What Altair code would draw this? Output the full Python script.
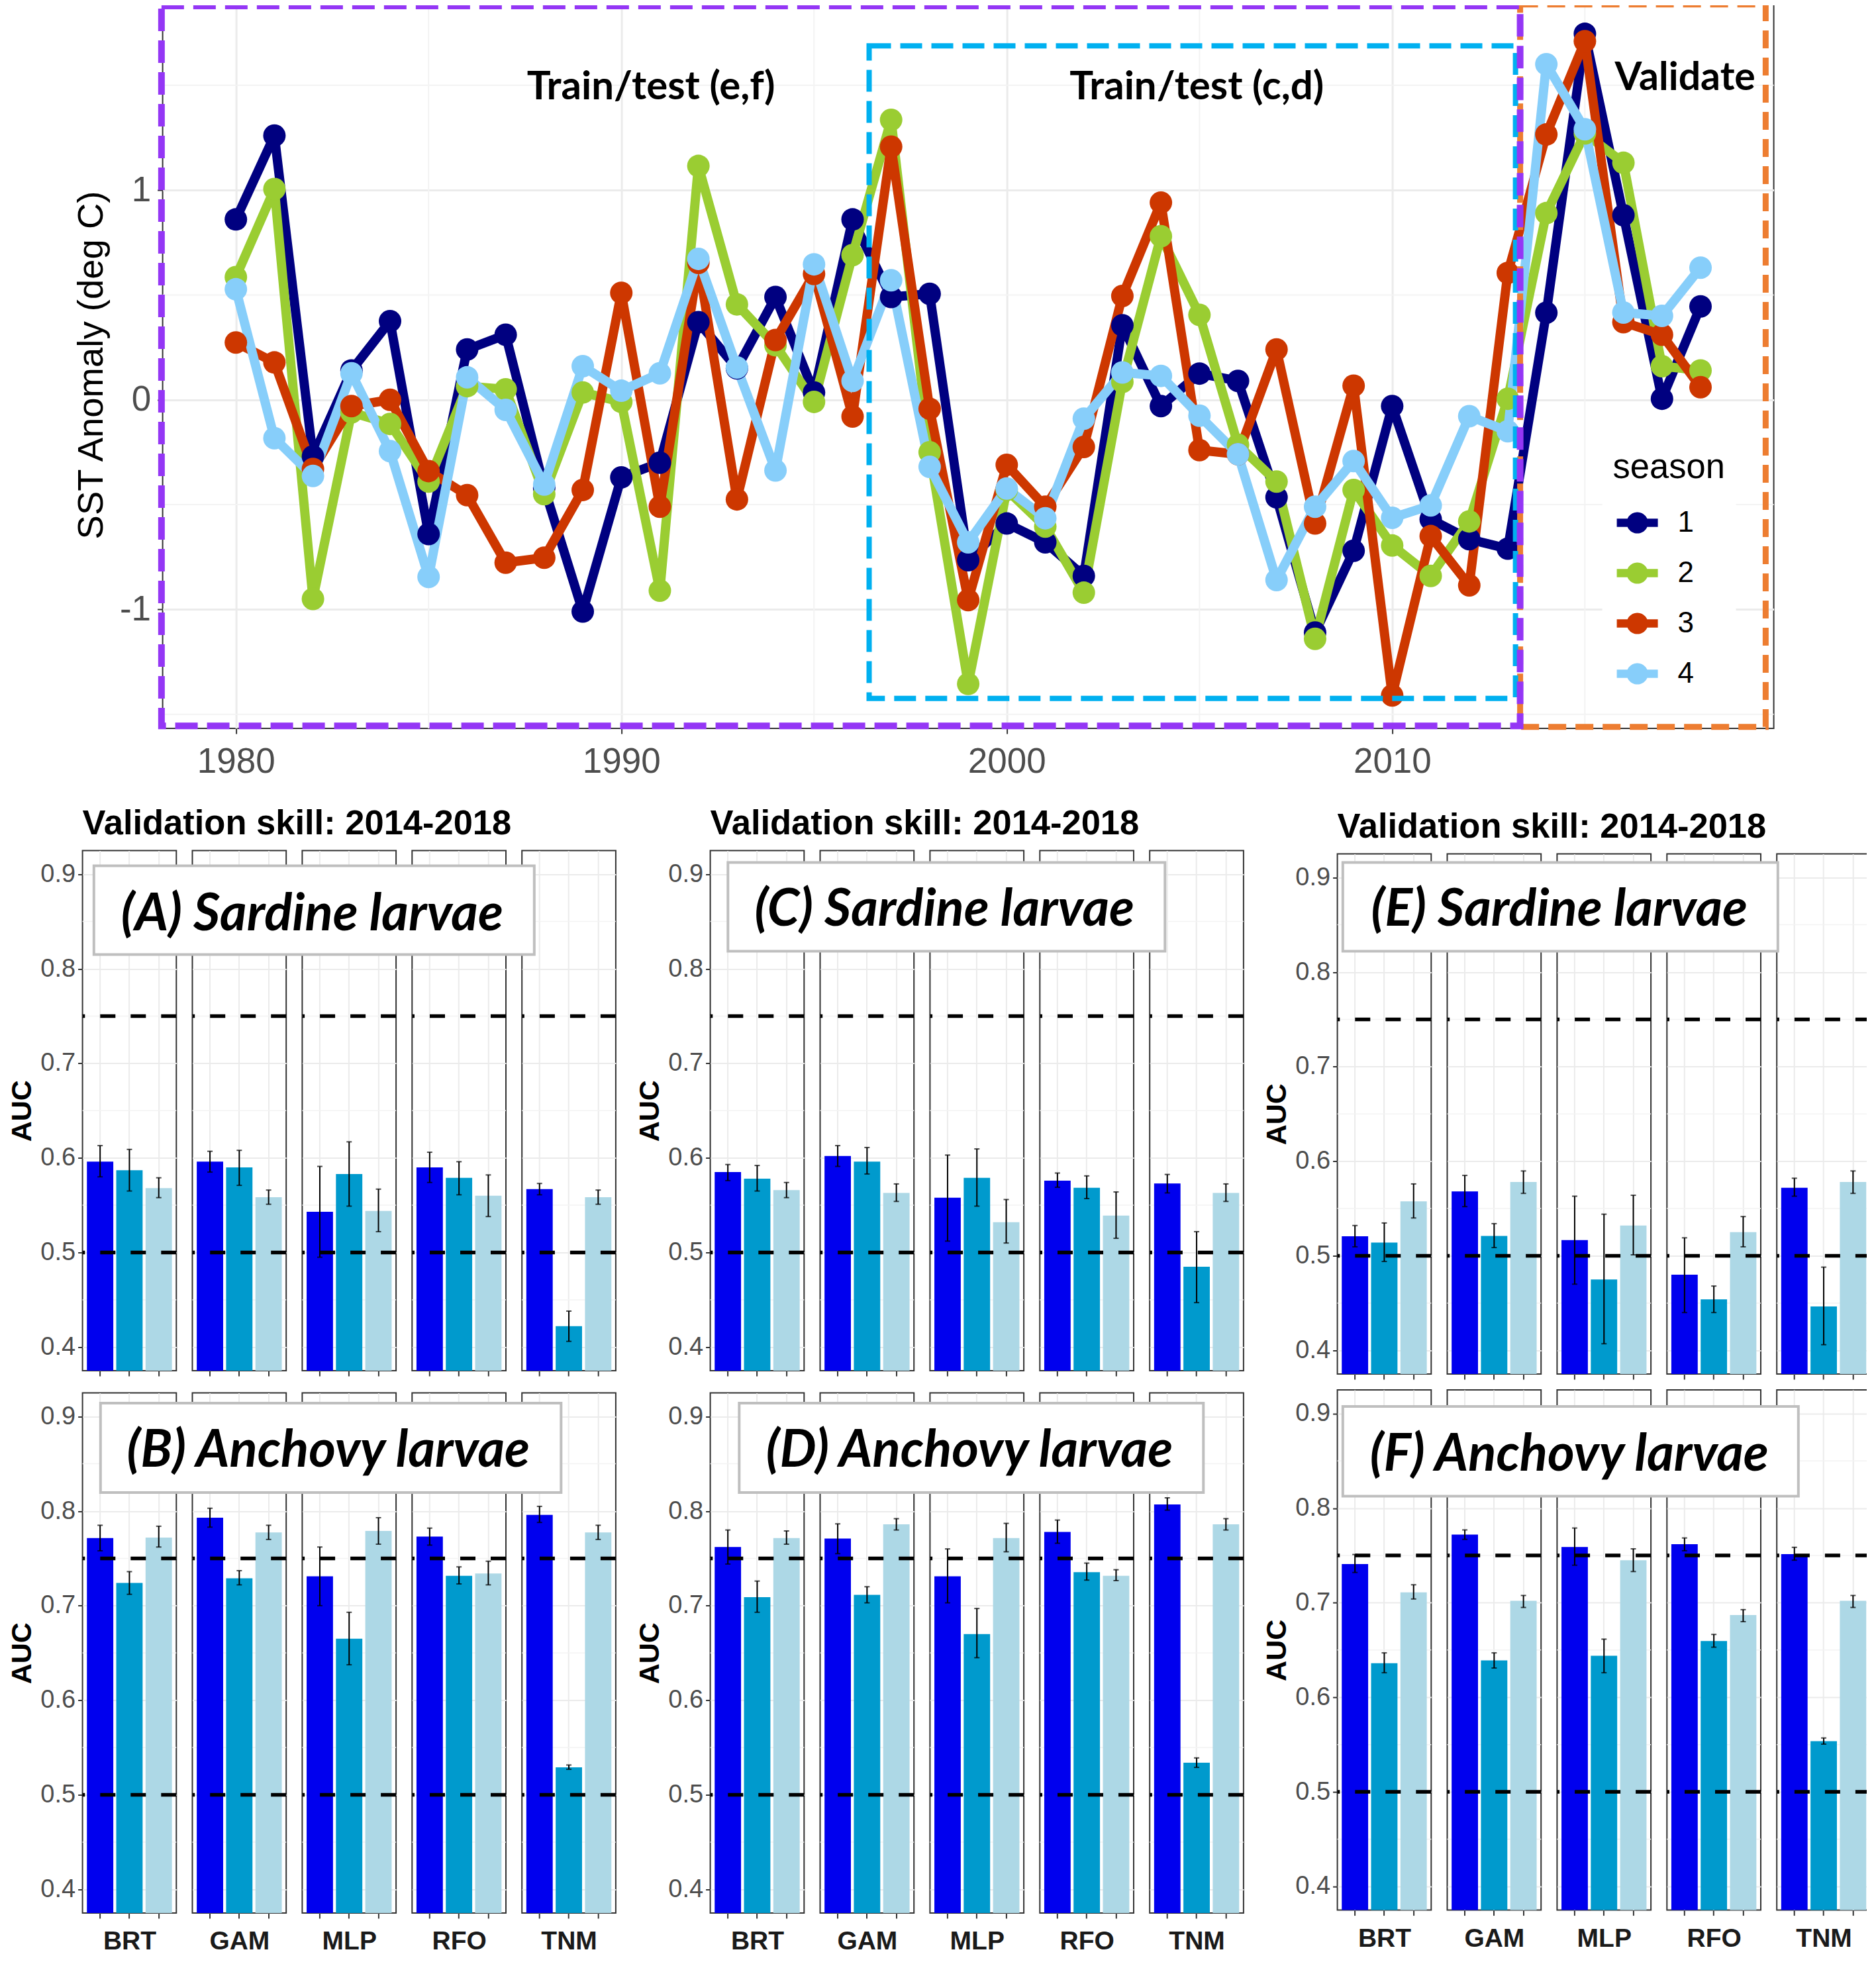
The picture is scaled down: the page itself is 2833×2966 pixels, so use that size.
import altair as alt
import pandas as pd

# ── data ─────────────────────────────────────────────────────────────────────
years = list(range(1980, 2019))
season_1 = [0.86, 1.26, -0.27, 0.14, 0.375, -0.64, 0.24, 0.31, -0.42, -1.01, -0.37, -0.30, 0.37, 0.15, 0.49, 0.035, 0.86, 0.49, 0.505,
            -0.765, -0.59, -0.68, -0.84, 0.355, -0.03, 0.125, 0.09, -0.465, -1.11, -0.72, -0.03, -0.57, -0.665, -0.71, 0.415, 1.745, 0.88, 0.005, 0.445]
season_2 = [0.585, 1.005, -0.95, -0.06, -0.115, -0.39, 0.065, 0.05, -0.45, 0.035, -0.01, -0.91, 1.115, 0.455, 0.26, -0.01, 0.69, 1.335, -0.25,
            -1.355, -0.43, -0.605, -0.92, 0.085, 0.78, 0.405, -0.215, -0.39, -1.14, -0.43, -0.695, -0.84, -0.58, 0.005, 0.89, 1.27, 1.13, 0.16, 0.14]
season_3 = [0.273, 0.178, -0.33, -0.03, 0.0, -0.34, -0.455, -0.777, -0.753, -0.43, 0.51, -0.51, 0.653, -0.475, 0.285, 0.6, -0.08, 1.207, -0.043,
            -0.955, -0.31, -0.51, -0.225, 0.495, 0.94, -0.24, -0.26, 0.24, -0.59, 0.067, -1.41, -0.65, -0.885, 0.605, 1.265, 1.71, 0.37, 0.31, 0.06]
season_4 = [0.527, -0.183, -0.363, 0.126, -0.245, -0.845, 0.107, -0.048, -0.404, 0.16, 0.043, 0.126, 0.672, 0.154, -0.337, 0.646, 0.09, 0.57, -0.32,
            -0.68, -0.423, -0.565, -0.09, 0.13, 0.114, -0.076, -0.26, -0.86, -0.51, -0.292, -0.563, -0.504, -0.078, -0.15, 1.6, 1.29, 0.416, 0.4, 0.63]

season_names = ["1", "2", "3", "4"]
season_colors = ["#000080", "#9ACD32", "#CD3700", "#87CEFA"]

models = ["BRT", "GAM", "MLP", "RFO", "TNM"]
bar_groups = ["a", "b", "c"]
bar_colors = ["#0000EE", "#009ACD", "#ADD8E6"]

A_auc = [.596, .587, .568, .596, .590, .5585, .543, .583, .544, .590, .579, .560, .567, .422, .5585]
A_hi = [.613, .609, .579, .607, .608, .566, .591, .617, .567, .606, .596, .582, .573, .438, .566]
A_lo = [.580, .565, .558, .585, .571, .551, .495, .549, .522, .574, .561, .538, .561, .406, .551]

B_auc = [.7715, .724, .772, .793, .729, .7775, .731, .665, .779, .773, .7316, .734, .796, .529, .7775]
B_hi = [.785, .736, .784, .803, .737, .785, .762, .693, .793, .782, .741, .747, .805, .5315, .785]
B_lo = [.758, .712, .762, .783, .722, .770, .700, .6375, .765, .764, .723, .722, .788, .527, .770]

C_auc = [.585, .578, .566, .602, .596, .563, .558, .579, .532, .576, .5685, .539, .573, .485, .563]
C_hi = [.593, .592, .574, .613, .611, .5725, .603, .6095, .556, .584, .581, .564, .5825, .522, .5725]
C_lo = [.576, .565, .558, .591, .583, .554, .512, .549, .510, .569, .557, .515, .563, .447, .554]

D_auc = [.762, .709, .7715, .771, .7115, .786, .731, .670, .7715, .778, .7355, .7316, .807, .534, .786]
D_hi = [.780, .726, .779, .7865, .720, .792, .760, .697, .787, .7905, .745, .738, .814, .539, .792]
D_lo = [.744, .693, .765, .755, .703, .780, .703, .645, .757, .766, .727, .7265, .801, .529, .780]

E_auc = [.5207, .514, .5576, .568, .521, .578, .5167, .475, .532, .480, .454, .525, .572, .4465, .578]
E_hi = [.532, .5347, .576, .585, .534, .5897, .563, .544, .564, .519, .468, .5415, .582, .488, .5897]
E_lo = [.5095, .494, .540, .552, .5087, .566, .470, .407, .501, .440, .440, .5095, .563, .406, .566]

F_auc = [.741, .636, .711, .772, .639, .702, .759, .644, .745, .762, .6595, .687, .7515, .5536, .702]
F_hi = [.751, .647, .719, .777, .647, .7077, .779, .6615, .757, .7685, .6665, .6927, .7586, .557, .7077]
F_lo = [.732, .626, .704, .767, .631, .695, .7397, .626, .733, .755, .653, .680, .745, .5505, .695]

auc_ticks = [0.4, 0.5, 0.6, 0.7, 0.8, 0.9]
auc_minor = [0.45, 0.55, 0.65, 0.75, 0.85]
auc_refs = [0.5, 0.75]

# ── shared look ──────────────────────────────────────────────────────────────
ARIAL = "Liberation Sans"
CALIBRI = "Lato"
GRID = "#EBEBEB"
MINOR = "#F3F3F3"
PANEL_W = 141.7
PANEL_H = 785.5
PANEL_GAP = 23.9
BLANK = alt.Data(values=[{}])


def spacer(w, h):
    return (
        alt.Chart(BLANK)
        .mark_point(opacity=0)
        .encode(x=alt.value(0))
        .properties(width=w, height=h, view=alt.ViewBackground(stroke=None))
    )


def panel(auc, hi, lo, m, first, bottom, heading, box):
    """one facet: three bars with error bars; box and heading are overlays"""
    i = models.index(m)
    df = pd.DataFrame({
        "group": bar_groups, "fill": bar_colors,
        "auc": auc[i * 3:i * 3 + 3], "hi": hi[i * 3:i * 3 + 3], "lo": lo[i * 3:i * 3 + 3],
    })
    x = alt.X(
        "group:N",
        title=m if bottom else None,
        scale=alt.Scale(paddingInner=0.1, paddingOuter=0.15),
        axis=alt.Axis(
            labels=False, ticks=True, tickSize=8, tickWidth=2, tickColor="#333333", domain=False,
            grid=True, gridColor=GRID, gridWidth=2,
            titleFont=ARIAL, titleFontSize=39, titleFontWeight="bold", titleColor="#1A1A1A", titlePadding=15,
        ),
    )
    yscale = alt.Scale(domain=[0.375, 0.925], nice=False, zero=False)
    if first:
        yaxis = alt.Axis(
            values=auc_ticks, format=".1f", labelFont=ARIAL, labelFontSize=38, labelColor="#4D4D4D", labelPadding=4,
            tickSize=7, tickWidth=2, tickColor="#333333", domain=False, grid=True, gridColor=GRID, gridWidth=2,
            title="AUC", titleFont=ARIAL, titleFontSize=43, titleFontWeight="bold", titleColor="#000000", titlePadding=5,
        )
    else:
        yaxis = alt.Axis(values=auc_ticks, labels=False, ticks=False, domain=False, grid=True, gridColor=GRID, gridWidth=2, title=None)

    def yy(field):
        return alt.Y(field, scale=yscale, axis=yaxis)

    minor = alt.Chart(pd.DataFrame({"v": auc_minor})).mark_rule(color=MINOR, strokeWidth=1.5).encode(y=yy("v:Q"))
    bars = alt.Chart(df).mark_bar(size=PANEL_W / 3.2 * 0.9, clip=True).encode(
        x=x, y=yy("auc:Q"), color=alt.Color("fill:N", scale=None),
    )
    refs = alt.Chart(pd.DataFrame({"v": auc_refs})).mark_rule(color="black", strokeWidth=5.5, strokeDash=[23, 23]).encode(y=yy("v:Q"))
    err = alt.Chart(df).mark_rule(color="black", strokeWidth=2).encode(x=x, y=yy("lo:Q"), y2="hi:Q")
    cap_lo = alt.Chart(df).mark_tick(color="black", size=8, thickness=2).encode(x=x, y=yy("lo:Q"))
    cap_hi = alt.Chart(df).mark_tick(color="black", size=8, thickness=2).encode(x=x, y=yy("hi:Q"))
    layers = [minor, bars, refs, err, cap_lo, cap_hi]

    if heading:
        layers.append(
            alt.Chart(BLANK)
            .mark_text(align="left", baseline="middle", font=ARIAL, fontSize=52.5, fontWeight="bold", color="black")
            .encode(x=alt.value(0), y=alt.value(-41), text=alt.value(heading))
        )
    if box:
        layers.append(
            alt.Chart(BLANK)
            .mark_rect(fill="white", stroke="#BFBFBF", strokeWidth=4)
            .encode(x=alt.value(box["x0"]), x2=alt.value(box["x1"]), y=alt.value(box["y0"]), y2=alt.value(box["y1"]))
        )
        layers.append(
            alt.Chart(BLANK)
            .mark_text(align="center", baseline="middle", dy=5, font=CALIBRI, fontSize=box["size"], fontWeight="bold", fontStyle="italic", color="black")
            .encode(x=alt.value(box["tx"]), y=alt.value(box["ty"]), text=alt.value(box["label"]))
        )
    return alt.layer(*layers).properties(width=PANEL_W, height=PANEL_H)


def row(auc, hi, lo, bottom, heading, box):
    panels = [panel(auc, hi, lo, m, m == "BRT", bottom, heading if m == "BRT" else None, box if m == "TNM" else None) for m in models]
    return alt.hconcat(*panels, spacing=PANEL_GAP, bounds="flush")


# label boxes, relative to the last facet of their row
def box(label, left, top, x0, x1, y0, y1, tx, ty, size):
    pl = left + 4 * (PANEL_W + PANEL_GAP)
    return dict(label=label, x0=x0 - pl, x1=x1 - pl, y0=y0 - top, y1=y1 - top, tx=tx - pl, ty=ty - top, size=size)


col_1 = alt.vconcat(
    row(A_auc, A_hi, A_lo, False, "Validation skill: 2014-2018", box("(A) Sardine larvae", 126, 1287, 142, 807, 1310, 1444, 471.5, 1379, 78)),
    row(B_auc, B_hi, B_lo, True, None, box("(B) Anchovy larvae", 126, 2103, 152, 847.5, 2118.4, 2253.4, 496, 2187, 78)),
    spacing=22,
)
col_2 = alt.vconcat(
    row(C_auc, C_hi, C_lo, False, "Validation skill: 2014-2018", box("(C) Sardine larvae", 1073.5, 1287, 1099, 1759, 1305, 1439, 1426, 1372, 78)),
    row(D_auc, D_hi, D_lo, True, None, box("(D) Anchovy larvae", 1073.5, 2103, 1116, 1817, 2118.4, 2253.4, 1463.6, 2187, 78)),
    spacing=22,
)
col_3 = alt.vconcat(
    spacer(1, 5),
    alt.vconcat(
        row(E_auc, E_hi, E_lo, False, "Validation skill: 2014-2018", box("(E) Sardine larvae", 2020, 1292, 2027, 2684, 1305, 1439, 2354, 1372, 78)),
        row(F_auc, F_hi, F_lo, True, None, box("(F) Anchovy larvae", 2020, 2098.6, 2027, 2715, 2123.5, 2259, 2369, 2193, 78)),
        spacing=12.6,
    ),
    spacing=0,
    bounds="flush",
)
bottom_row = alt.hconcat(alt.hconcat(col_1, col_2, spacing=25), col_3, spacing=24)

# ── SST panel ────────────────────────────────────────────────────────────────
sst = pd.DataFrame({
    "year": years * 4,
    "anom": season_1 + season_2 + season_3 + season_4,
    "season": [s for s in season_names for _ in years],
})
x_scale = alt.Scale(domain=[1978.1, 2019.9], nice=False, zero=False)
y_scale = alt.Scale(domain=[-1.567, 1.90], nice=False, zero=False)
x_axis = alt.Axis(
    values=[1980, 1990, 2000, 2010], format="d", title=None, domain=False,
    labelFont=ARIAL, labelFontSize=53, labelColor="#4D4D4D", labelPadding=16,
    tickSize=8, tickWidth=2, tickColor="#333333", grid=True, gridColor=GRID, gridWidth=3,
)
y_axis = alt.Axis(
    values=[-1, 0, 1], labelExpr="'' + datum.value", domain=False,
    labelFont=ARIAL, labelFontSize=53, labelColor="#4D4D4D", labelPadding=10,
    tickSize=8, tickWidth=2, tickColor="#333333", grid=True, gridColor=GRID, gridWidth=3,
    title="SST Anomaly (deg C)", titleFont=ARIAL, titleFontSize=54.5, titleFontWeight="normal", titleColor="#000000", titlePadding=15,
)
season_scale = alt.Scale(domain=season_names, range=season_colors)
key_shape = "M-1,-0.2L-0.48,-0.2A0.52,0.52 0 0 1 0.48,-0.2L1,-0.2L1,0.2L0.48,0.2A0.52,0.52 0 0 1 -0.48,0.2L-1,0.2Z"
season_legend = alt.Legend(
    orient="none", legendX=2295, legendY=663, title="season",
    titleFont=ARIAL, titleFontSize=52.5, titleFontWeight="normal", titleColor="#000000", titlePadding=25,
    labelFont=ARIAL, labelFontSize=44, labelColor="#000000", labelOffset=30,
    symbolType=key_shape, symbolSize=3844, symbolStrokeWidth=0, symbolOffset=6, rowPadding=23,
    fillColor="white", padding=16,
)

minor_x = alt.Chart(pd.DataFrame({"year": [1985, 1995, 2005, 2015]})).mark_rule(color=MINOR, strokeWidth=2).encode(x=alt.X("year:Q", scale=x_scale, axis=x_axis))
minor_y = alt.Chart(pd.DataFrame({"anom": [-1.5, -0.5, 0.5, 1.5]})).mark_rule(color=MINOR, strokeWidth=2).encode(y=alt.Y("anom:Q", scale=y_scale, axis=y_axis))
lines = alt.Chart(sst).mark_line(strokeWidth=14, strokeCap="round", strokeJoin="round").encode(
    x=alt.X("year:Q", scale=x_scale), y=alt.Y("anom:Q", scale=y_scale),
    color=alt.Color("season:N", scale=season_scale, legend=season_legend),
)
points = alt.Chart(sst).mark_circle(size=1156, opacity=1).encode(
    x=alt.X("year:Q", scale=x_scale), y=alt.Y("anom:Q", scale=y_scale),
    color=alt.Color("season:N", scale=season_scale, legend=season_legend),
)


def frame(color, width, dash, x0, x1, y0, y1):
    df = pd.DataFrame({"x0": [x0], "x1": [x1], "y0": [y0], "y1": [y1]})
    return alt.Chart(df).mark_rect(filled=False, stroke=color, strokeWidth=width, strokeDash=dash).encode(
        x=alt.X("x0:Q", scale=x_scale), x2="x1:Q", y=alt.Y("y0:Q", scale=y_scale), y2="y1:Q"
    )


def note(label, xv, yv, size):
    df = pd.DataFrame({"x": [xv], "y": [yv], "t": [label]})
    return alt.Chart(df).mark_text(font=CALIBRI, fontSize=size, fontWeight="bold", color="black").encode(
        x=alt.X("x:Q", scale=x_scale), y=alt.Y("y:Q", scale=y_scale), text="t:N"
    )


sst_chart = alt.layer(
    minor_x, minor_y, lines, points,
    frame("#ED7D31", 9, [27, 14], 2013.32, 2019.69, -1.56, 1.885),
    frame("#00B0F0", 8, [33, 14], 1996.43, 2013.2, -1.424, 1.688),
    frame("#9436F5", 10, [34, 14], 1978.07, 2013.32, -1.555, 1.878),
    note("Train/test (e,f)", 1990.77, 1.49, 60),
    note("Train/test (c,d)", 2004.93, 1.49, 60),
    note("Validate", 2017.6, 1.535, 59),
).properties(width=2433, height=1098)

top_row = alt.hconcat(spacer(120.5, 1), sst_chart, spacing=0, bounds="flush")

chart = (
    alt.vconcat(top_row, bottom_row, spacing=38.5)
    .properties(padding={"left": 3.6, "top": -9, "right": -11, "bottom": 0})
    .configure_view(stroke="#333333", strokeWidth=2)
)

chart.save("out.html", embed_options={"renderer": "svg", "actions": False})
